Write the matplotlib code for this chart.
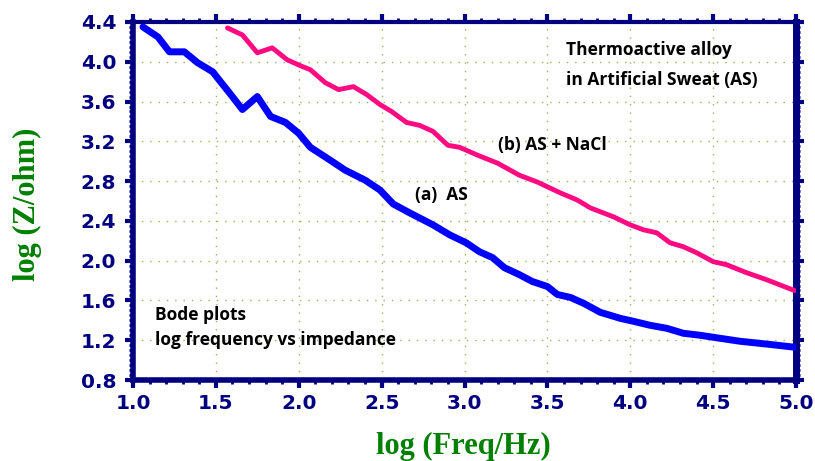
import matplotlib
matplotlib.use("Agg")
import matplotlib.pyplot as plt
from matplotlib.ticker import MultipleLocator

# Data
as_x = [1.06, 1.15, 1.22, 1.31, 1.39, 1.48, 1.59, 1.66, 1.75, 1.83, 1.92, 2.00,
        2.07, 2.19, 2.28, 2.40, 2.49, 2.57, 2.67, 2.81, 2.91, 3.01, 3.09, 3.17,
        3.24, 3.33, 3.41, 3.50, 3.56, 3.64, 3.72, 3.82, 3.94, 4.02, 4.12, 4.22,
        4.32, 4.42, 4.54, 4.66, 4.83, 4.99]
as_y = [4.35, 4.25, 4.10, 4.10, 3.99, 3.90, 3.67, 3.52, 3.65, 3.45, 3.39, 3.28,
        3.14, 3.01, 2.91, 2.81, 2.71, 2.57, 2.48, 2.36, 2.26, 2.18, 2.09, 2.03,
        1.93, 1.86, 1.79, 1.74, 1.66, 1.63, 1.57, 1.48, 1.42, 1.39, 1.35, 1.32,
        1.27, 1.25, 1.22, 1.19, 1.16, 1.13]

nacl_x = [1.57, 1.66, 1.75, 1.84, 1.93, 2.01, 2.07, 2.16, 2.24, 2.33, 2.41, 2.49,
          2.56, 2.65, 2.73, 2.81, 2.90, 2.97, 3.08, 3.20, 3.33, 3.44, 3.58, 3.68,
          3.76, 3.90, 4.00, 4.08, 4.16, 4.24, 4.32, 4.40, 4.50, 4.58, 4.70, 4.82,
          4.99]
nacl_y = [4.34, 4.27, 4.09, 4.14, 4.02, 3.96, 3.92, 3.79, 3.72, 3.75, 3.67, 3.57,
          3.50, 3.39, 3.36, 3.30, 3.16, 3.14, 3.06, 2.98, 2.86, 2.79, 2.68, 2.61,
          2.53, 2.44, 2.36, 2.31, 2.28, 2.18, 2.14, 2.08, 1.99, 1.96, 1.88, 1.81,
          1.70]

x_ticks = [1.0, 1.5, 2.0, 2.5, 3.0, 3.5, 4.0, 4.5, 5.0]
y_ticks = [0.8, 1.2, 1.6, 2.0, 2.4, 2.8, 3.2, 3.6, 4.0, 4.4]

navy = "#000080"
fig = plt.figure(figsize=(8.15, 4.61), dpi=100)
ax = fig.add_axes([0.1632, 0.1757, 0.8135, 0.7766])

ax.plot(as_x, as_y, color="#0000FF", lw=5, solid_capstyle="round", solid_joinstyle="round", zorder=3)
ax.plot(nacl_x, nacl_y, color="#FF0A80", lw=3.5, solid_capstyle="round", solid_joinstyle="round", zorder=3)

ax.set_xlim(1.0, 5.0)
ax.set_ylim(0.8, 4.4)
ax.set_xticks(x_ticks)
ax.set_yticks(y_ticks)
ax.set_xticklabels([f"{v:.1f}" for v in x_ticks])
ax.set_yticklabels([f"{v:.1f}" for v in y_ticks])
ax.xaxis.set_minor_locator(MultipleLocator(0.1))
ax.yaxis.set_minor_locator(MultipleLocator(0.05))

ax.grid(True, which="major", color="#9ab55a", linestyle=(0, (1, 5)), linewidth=1.0, zorder=0)

for side, w in [("left", 4), ("bottom", 4), ("top", 3), ("right", 5)]:
    ax.spines[side].set_linewidth(w)
    ax.spines[side].set_color(navy)

ax.tick_params(which="major", direction="out", length=6, width=3, color=navy,
               top=True, right=True, labelsize=14.5, labelcolor=navy, pad=4)
ax.tick_params(axis="y", which="major", pad=6)
ax.tick_params(which="minor", direction="out", length=3, width=2, color=navy,
               top=True, right=True)
for lab in ax.get_xticklabels() + ax.get_yticklabels():
    lab.set_fontweight("bold")
    lab.set_fontfamily("DejaVu Sans")

ax.set_xlabel("log (Freq/Hz)", fontsize=22, fontweight="bold", color="#008000",
              fontfamily="Liberation Serif")
ax.set_ylabel("log (Z/ohm)", fontsize=22, fontweight="bold", color="#008000",
              fontfamily="Liberation Serif")
ax.xaxis.set_label_coords(0.499, -0.145)
ax.yaxis.set_label_coords(-0.138, 0.49)

tfont = dict(fontsize=12.5, fontweight="bold", color="black", fontfamily="Open Sans")
ax.text(3.61, 4.12, "Thermoactive alloy", va="center", ha="left", **tfont)
ax.text(3.61, 3.82, "in Artificial Sweat (AS)", va="center", ha="left", **tfont)
ax.text(3.20, 3.16, "(b) AS + NaCl", va="center", ha="left", **tfont)
ax.text(2.70, 2.66, "(a)  AS", va="center", ha="left", **tfont)
ax.text(1.13, 1.45, "Bode plots", va="center", ha="left", **tfont)
ax.text(1.13, 1.20, "log frequency vs impedance", va="center", ha="left", **tfont)

fig.savefig("out.png", dpi=100)
